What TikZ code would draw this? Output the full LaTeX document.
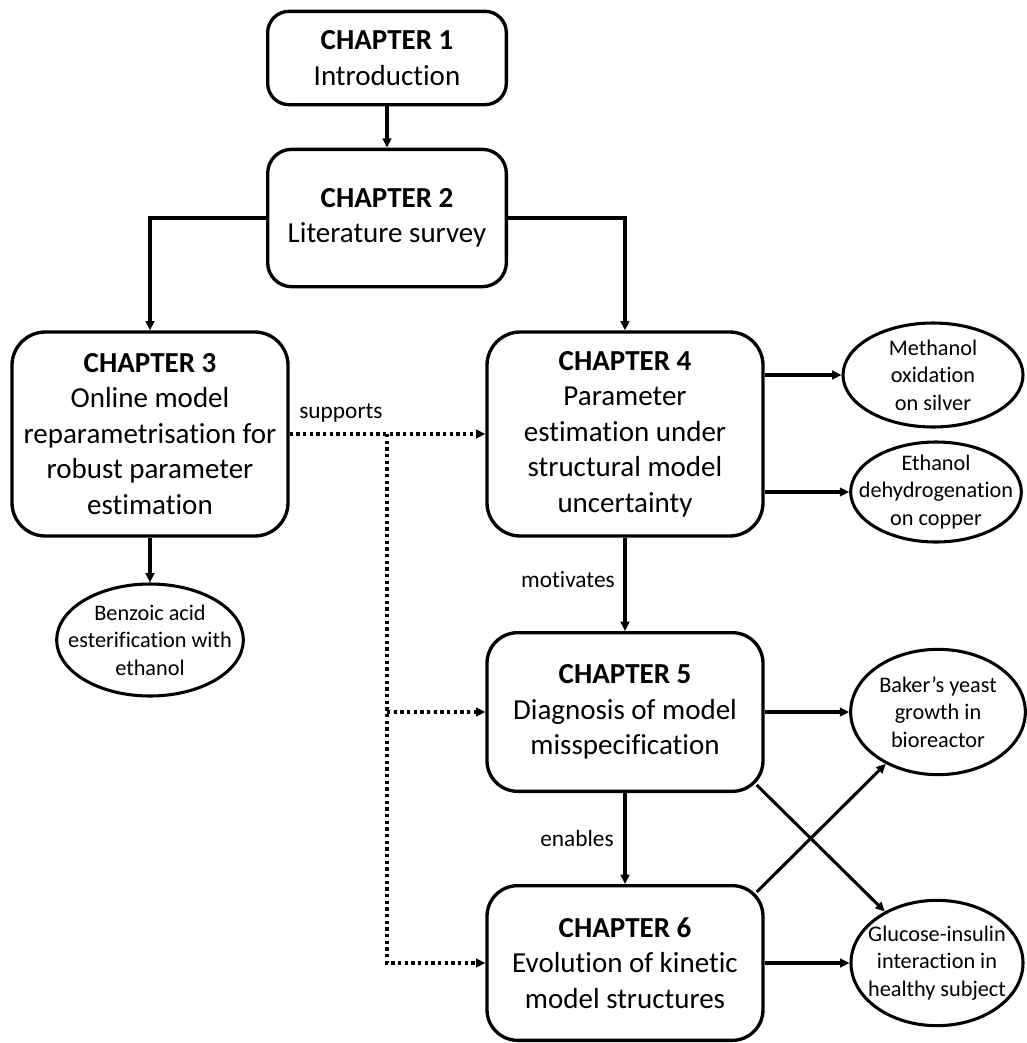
\documentclass[tikz,border=0pt]{standalone}
\usepackage{fontspec}
\setmainfont{Carlito}[Ligatures=NoCommon]
\usetikzlibrary{arrows.meta,shapes.geometric,calc}
\begin{document}
\begin{tikzpicture}[x=0.75pt,y=-0.75pt,
  chapbox/.style={draw,line width=2.5pt,rounded corners=25pt,align=center,inner sep=0pt,
    minimum width=207pt,font=\fontsize{21.75pt}{26.6pt}\selectfont},
  caseshape/.style={draw,ellipse,line width=2.3pt,inner sep=0pt},
  casetext/.style={align=center,inner sep=0pt,font=\fontsize{16.7pt}{20.6pt}\selectfont},
  link/.style={line width=2.3pt,-{Triangle[length=7pt,width=6.5pt]}},
  supportlink/.style={link,dash pattern=on 2.5pt off 2.5pt},
  relabel/.style={inner sep=0pt,font=\fontsize{17.5pt}{21pt}\selectfont}
]
\useasboundingbox (0,0) rectangle (1026,1043);

% chapter boxes
\node[chapbox,minimum width=179pt,minimum height=70pt,rounded corners=16pt] (ch1) at (387,58)
  {\textbf{CHAPTER 1}\\Introduction};
\node[chapbox,minimum width=179pt,minimum height=103pt,rounded corners=18pt] (ch2) at (387,218)
  {\textbf{CHAPTER 2}\\Literature survey};
\node[chapbox,minimum height=153pt] (ch3) at (150,434)
  {\textbf{CHAPTER 3}\\Online model\\reparametrisation for\\robust parameter\\estimation};
\node[chapbox,minimum height=153pt] (ch4) at (625,434)
  {\textbf{CHAPTER 4}\\Parameter\\estimation under\\structural model\\uncertainty};
\node[chapbox,minimum height=119pt,rounded corners=23pt] (ch5) at (625,712)
  {\textbf{CHAPTER 5}\\Diagnosis of model\\misspecification};
\node[chapbox,minimum height=116pt,rounded corners=23pt] (ch6) at (625,963)
  {\textbf{CHAPTER 6}\\Evolution of kinetic\\model structures};

% case studies
\node[caseshape,minimum width=140pt,minimum height=84pt] (ben) at (150,640) {};
\node[casetext] (benT) at (ben) {Benzoic acid\\esterification with\\ethanol};
\node[caseshape,minimum width=135pt,minimum height=78pt] (met) at (933,375) {};
\node[casetext] (metT) at (met) {Methanol\\oxidation\\on silver};
\node[caseshape,minimum width=128pt,minimum height=75pt] (eth) at (936,492) {};
\node[casetext] (ethT) at (eth) {Ethanol\\dehydrogenation\\on copper};
\node[caseshape,minimum width=131pt,minimum height=94pt] (bak) at (938,712) {};
\node[casetext] (bakT) at (bak) {Baker’s yeast\\growth in\\bioreactor};
\node[caseshape,minimum width=129pt,minimum height=94pt] (glu) at (937,963) {};
\node[casetext] (gluT) at (glu) {Glucose-insulin\\interaction in\\healthy subject};

% main flow
\draw[link] (ch1) -- (ch2);
\draw[link] (ch2.west) -| (ch3.north);
\draw[link] (ch2.east) -| (ch4.north);
\draw[link] (ch3) -- (ben);
\draw[link] (ch4) -- (ch5);
\draw[link] (ch5) -- (ch6);

% links to case studies
\draw[link] (ch4.east |- met) -- (met);
\draw[link] (ch4.east |- eth) -- (eth);
\draw[link] (ch5.east) -- (bak.west);
\draw[link] (ch6.east) -- (glu.west);
\draw[link] ($(ch5.south east)+(-8,-8)$) -- (glu);
\draw[link] ($(ch6.north east)+(-8,8)$) -- (bak);

% supporting links from chapter 3
\coordinate (br) at (ch2.south |- ch3.east);
\draw[supportlink] (ch3.east) -- (ch4.west);
\draw[supportlink] (br) |- (ch6.west);
\draw[supportlink] (br |- ch5.west) -- (ch5.west);

% connector labels
\node[relabel] (lsup) at (341,413) {supports};
\node[relabel,anchor=east] (lmot) at (615,580) {motivates};
\node[relabel,anchor=east] (lena) at (614,838) {enables};
\end{tikzpicture}
\end{document}
